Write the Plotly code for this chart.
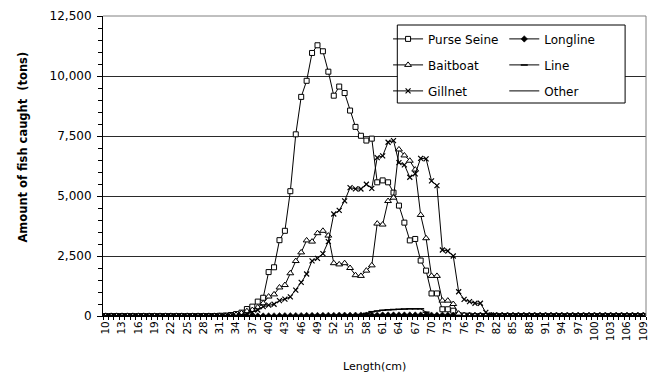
import plotly.graph_objects as go

# Fish length classes (cm)
lengths = list(range(10, 110))

def pad(start, values, total=len(lengths)):
    """Series of catches starting at length class `start`, zero elsewhere."""
    out = [0] * total
    for i, v in enumerate(values):
        out[start - 10 + i] = v
    return out

# Catch (tons) by length class for each gear
purse_seine = pad(31, [10, 20, 40, 80, 140, 290, 390, 600, 760, 1830, 2030, 3160, 3550, 5200,
                       7570, 9130, 9800, 10960, 11280, 11030, 10180, 9180, 9560, 9290, 8560,
                       7880, 7510, 7310, 7390, 5570, 5650, 5570, 5140, 4600, 3890, 3150, 3210,
                       2310, 1890, 940, 940, 280, 280, 220, 40, 20, 10])
baitboat = pad(34, [50, 120, 200, 250, 360, 530, 810, 900, 1190, 1290, 1780, 2290, 2650, 3150,
                    3100, 3450, 3550, 3350, 2200, 2150, 2200, 2000, 1700, 1670, 1890, 2110,
                    3850, 3810, 4790, 4930, 6940, 6690, 6470, 6100, 4210, 3240, 1670, 1670,
                    640, 640, 500, 100, 30])
gillnet = pad(35, [30, 80, 150, 250, 390, 450, 490, 640, 700, 800, 1080, 1400, 1750, 2300, 2400,
                   2600, 3100, 4250, 4400, 4800, 5350, 5300, 5290, 5490, 5320, 6600, 6670, 7240,
                   7310, 6390, 6300, 5780, 5920, 6570, 6550, 5630, 5430, 2750, 2710, 2500, 1010,
                   690, 600, 530, 530, 150, 40, 10])
longline = pad(40, [5, 5, 10, 10, 10, 15, 15, 20, 20, 20, 25, 25, 25, 30, 30, 30, 30, 35, 35, 35,
                    35, 40, 40, 40, 40, 40, 40, 40, 40, 40, 35, 35, 35, 30, 30, 30, 30, 30, 30,
                    30, 30, 30, 30, 30, 30, 30, 30, 30, 30, 30, 30, 30, 30, 30, 30, 30, 30, 30,
                    30, 30, 30, 30, 30, 30, 30, 30, 30, 30, 30, 30])
line_gear = pad(40, [5, 5, 10, 10, 10, 10, 15, 15, 15, 20, 20, 20, 20, 20, 20, 20, 30, 60, 110,
                     180, 210, 240, 260, 270, 280, 290, 300, 300, 300, 160, 40, 10])
other = pad(40, [0, 5, 5, 5, 5, 10, 10, 10, 10, 10, 10, 10, 10, 10, 10, 10, 10, 10, 10, 10, 10,
                 10, 10, 10, 10, 10, 10, 10, 5, 5, 5, 5, 5])

y_ticks = [0, 2500, 5000, 7500, 10000, 12500]
x_ticks = list(range(10, 110, 3))

FONT = "DejaVu Sans"

series = [
    ("Purse Seine", purse_seine, dict(symbol="square", size=5, color="white",
                                      line=dict(color="black", width=1)), "legend"),
    ("Longline", longline, dict(symbol="diamond", size=5, color="black",
                                line=dict(color="black", width=0.5)), "legend2"),
    ("Baitboat", baitboat, dict(symbol="triangle-up", size=6, color="white",
                                line=dict(color="black", width=1)), "legend"),
    ("Line", line_gear, dict(symbol="line-ew-open", size=5,
                             line=dict(color="black", width=1.5)), "legend2"),
    ("Gillnet", gillnet, dict(symbol="x-thin-open", size=5,
                              line=dict(color="black", width=1.2)), "legend"),
    ("Other", other, None, "legend2"),
]

fig = go.Figure()
for name, vals, marker, leg in series:
    kw = dict(x=lengths, y=vals, name=name, legend=leg, legendgroup=name,
              line=dict(color="black", width=1))
    if marker is None:
        kw["mode"] = "lines"
    else:
        kw["mode"] = "lines+markers"
        kw["marker"] = marker
    fig.add_trace(go.Scatter(**kw))

legend_style = dict(font=dict(family=FONT, size=12, color="black"),
                    bgcolor="rgba(0,0,0,0)", borderwidth=0,
                    yanchor="top", xanchor="left", tracegroupgap=7,
                    itemclick=False)

fig.update_layout(
    width=653, height=376,
    margin=dict(l=103, r=4, t=16, b=60),
    paper_bgcolor="white", plot_bgcolor="white",
    font=dict(family=FONT, color="black"),
    showlegend=True,
    legend=dict(x=0.525, y=0.972, **legend_style),
    legend2=dict(x=0.739, y=0.972, **legend_style),
    xaxis=dict(
        range=[9.5, 109.5], tickmode="array", tickvals=x_ticks,
        ticktext=[str(v) for v in x_ticks], tickangle=-90,
        tickfont=dict(family=FONT, size=10.5, color="black"),
        ticks="", showgrid=False, zeroline=False,
        showline=True, linecolor="black", linewidth=1,
        minor=dict(ticks="outside", tick0=9.5, dtick=1, ticklen=3,
                   tickcolor="black", showgrid=False),
    ),
    yaxis=dict(
        range=[0, 12500], tickmode="array", tickvals=y_ticks, tickformat=",d",
        tickfont=dict(family=FONT, size=12, color="black"),
        ticks="outside", ticklen=5, tickcolor="black", ticklabelstandoff=3,
        showgrid=True, gridcolor="#2a2a2a", gridwidth=1, zeroline=False,
        showline=True, linecolor="black", linewidth=1,
        minor=dict(ticks="outside", dtick=500, ticklen=4, tickcolor="black",
                   showgrid=False),
    ),
    shapes=[
        # plot-area border on the top and right
        dict(type="line", xref="paper", yref="paper", x0=0, x1=1, y0=1, y1=1,
             line=dict(color="#808080", width=1)),
        dict(type="line", xref="paper", yref="paper", x0=1, x1=1, y0=0, y1=1,
             line=dict(color="#808080", width=1)),
        # legend frame
        dict(type="rect", xref="paper", yref="paper", x0=0.542, x1=0.9615,
             y0=0.71, y1=0.97, fillcolor="white", layer="above",
             line=dict(color="black", width=1)),
    ],
    annotations=[
        dict(text="Amount of fish caught  (tons)", xref="paper", yref="paper",
             x=-0.1465, y=0.563, xanchor="center", yanchor="middle", textangle=-90,
             showarrow=False, font=dict(family=FONT, size=11.5, color="black",
                                        weight="bold")),
        dict(text="Length(cm)", xref="paper", yref="paper", x=0.5, y=-0.167,
             xanchor="center", yanchor="middle", showarrow=False,
             font=dict(family=FONT, size=11, color="black")),
    ],
)

fig.write_html("out.html")
